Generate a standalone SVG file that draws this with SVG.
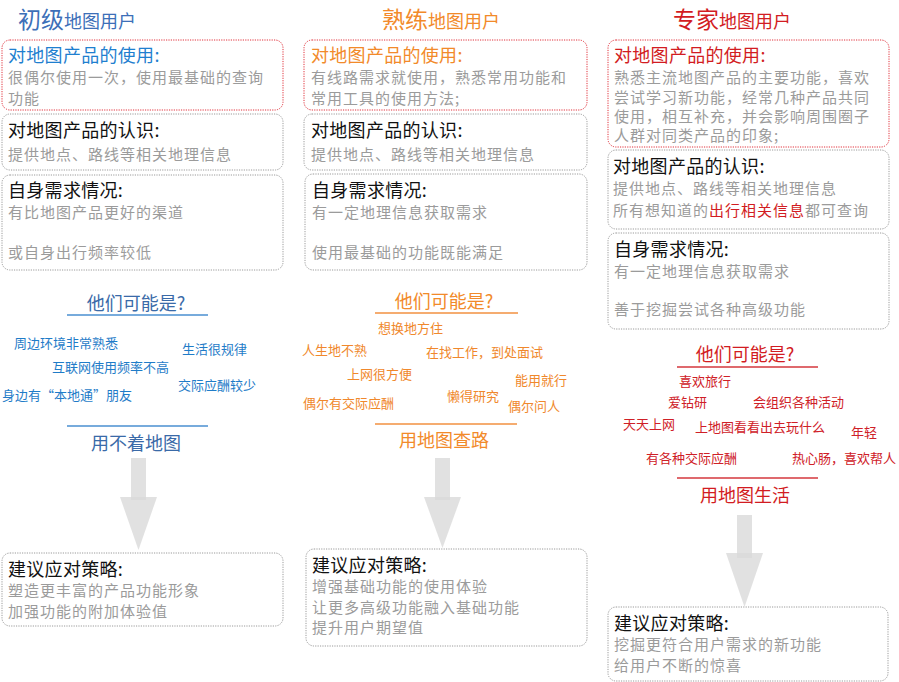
<svg xmlns="http://www.w3.org/2000/svg" width="899" height="682" viewBox="0 0 899 682">
<style>
text{font-family:"Noto Sans CJK SC","Noto Sans",sans-serif}
.box{fill:#fff;stroke:#9a9a9a;stroke-width:1;stroke-dasharray:1.2 1.2}
.rbox{fill:#fff;stroke:#e0303a;stroke-width:1;stroke-dasharray:1.2 1.2}
.h{font-size:18px;fill:#111;letter-spacing:0.3px}
.b{font-size:15px;fill:#9b9b9b;letter-spacing:1px}
.tb{fill:#3d6fb8}.to{fill:#f28a2a}.tr{fill:#d21c22}
.big{font-size:23px}.sm{font-size:18px}
.q{font-size:18px;text-anchor:middle}
.i{font-size:13px}
.ib{fill:#1f7cc8}.io{fill:#f0882c}.ir{fill:#cf2027}
.lb{stroke:#4a8fd0;stroke-width:1.5}.lo{stroke:#f29040;stroke-width:1.5}.lr{stroke:#d4373c;stroke-width:1.5}
.arr{fill:#dadada;opacity:0.8}
</style>

<g id="col1-title"><text x="18" y="28" class="tb"><tspan class="big">初级</tspan><tspan class="sm">地图用户</tspan></text></g>
<g id="col1-use">
<rect x="2" y="40" width="281" height="70" rx="8" class="rbox"/>
<text x="8" y="62" class="h" style="fill:#1f7fcf">对地图产品的使用:</text>
<text x="8" y="83" class="b">很偶尔使用一次，使用最基础的查询</text>
<text x="8" y="104" class="b">功能</text>
</g>
<g id="col1-know">
<rect x="2" y="114" width="281" height="56" rx="8" class="box"/>
<text x="8" y="137" class="h">对地图产品的认识:</text>
<text x="8" y="160" class="b">提供地点、路线等相关地理信息</text>
</g>
<g id="col1-need">
<rect x="2" y="175" width="281" height="95" rx="8" class="box"/>
<text x="8" y="197" class="h">自身需求情况:</text>
<text x="8" y="218" class="b">有比地图产品更好的渠道</text>
<text x="8" y="258" class="b">或自身出行频率较低</text>
</g>
<g id="col1-who">
<text x="136" y="310" class="q tb" style="fill:#3a6aa8">他们可能是?</text>
<line x1="67" y1="315" x2="208" y2="315" class="lb"/>
<text x="14" y="348" class="i ib">周边环境非常熟悉</text>
<text x="52" y="372" class="i ib">互联网使用频率不高</text>
<text x="2" y="400" class="i ib">身边有“本地通”朋友</text>
<text x="182" y="354" class="i ib">生活很规律</text>
<text x="178" y="390" class="i ib">交际应酬较少</text>
<line x1="67" y1="426" x2="208" y2="426" class="lb"/>
<text x="136" y="450" class="q" style="fill:#3a6aa8">用不着地图</text>
</g>
<g id="col1-strategy">
<rect x="2" y="553" width="281" height="73" rx="8" class="box"/>
<text x="8" y="576" class="h">建议应对策略:</text>
<text x="8" y="596" class="b">塑造更丰富的产品功能形象</text>
<text x="8" y="617" class="b">加强功能的附加体验值</text>
</g>

<g id="col2-title"><text x="382" y="28" class="to"><tspan class="big">熟练</tspan><tspan class="sm">地图用户</tspan></text></g>
<g id="col2-use">
<rect x="304" y="40" width="283" height="70" rx="8" class="rbox"/>
<text x="311" y="62" class="h" style="fill:#f28a2a">对地图产品的使用:</text>
<text x="311" y="83" class="b">有线路需求就使用，熟悉常用功能和</text>
<text x="311" y="104" class="b">常用工具的使用方法;</text>
</g>
<g id="col2-know">
<rect x="304" y="114" width="283" height="56" rx="8" class="box"/>
<text x="311" y="137" class="h">对地图产品的认识:</text>
<text x="311" y="160" class="b">提供地点、路线等相关地理信息</text>
</g>
<g id="col2-need">
<rect x="305" y="174" width="282" height="96" rx="8" class="box"/>
<text x="312" y="197" class="h">自身需求情况:</text>
<text x="312" y="218" class="b">有一定地理信息获取需求</text>
<text x="312" y="258" class="b">使用最基础的功能既能满足</text>
</g>
<g id="col2-who">
<text x="444" y="308" class="q to">他们可能是?</text>
<line x1="375" y1="313" x2="518" y2="313" class="lo"/>
<text x="378" y="333" class="i io">想换地方住</text>
<text x="302" y="355" class="i io">人生地不熟</text>
<text x="426" y="357" class="i io">在找工作，到处面试</text>
<text x="347" y="379" class="i io">上网很方便</text>
<text x="515" y="385" class="i io">能用就行</text>
<text x="447" y="401" class="i io">懒得研究</text>
<text x="303" y="408" class="i io">偶尔有交际应酬</text>
<text x="508" y="411" class="i io">偶尔问人</text>
<line x1="375" y1="424" x2="517" y2="424" class="lo"/>
<text x="444" y="447" class="q to">用地图查路</text>
</g>
<g id="col2-strategy">
<rect x="306" y="549" width="281" height="97" rx="8" class="box"/>
<text x="312" y="572" class="h">建议应对策略:</text>
<text x="312" y="592" class="b">增强基础功能的使用体验</text>
<text x="312" y="613" class="b">让更多高级功能融入基础功能</text>
<text x="312" y="633" class="b">提升用户期望值</text>
</g>

<g id="col3-title"><text x="673" y="28" class="tr"><tspan class="big">专家</tspan><tspan class="sm">地图用户</tspan></text></g>
<g id="col3-use">
<rect x="608" y="40" width="281" height="107" rx="8" class="rbox"/>
<text x="614" y="62" class="h" style="fill:#d21c22">对地图产品的使用:</text>
<text x="614" y="83" class="b">熟悉主流地图产品的主要功能，喜欢</text>
<text x="614" y="103" class="b">尝试学习新功能，经常几种产品共同</text>
<text x="614" y="122" class="b">使用，相互补充，并会影响周围圈子</text>
<text x="614" y="141" class="b">人群对同类产品的印象;</text>
</g>
<g id="col3-know">
<rect x="608" y="150" width="281" height="79" rx="8" class="box"/>
<text x="613" y="173" class="h">对地图产品的认识:</text>
<text x="613" y="194" class="b">提供地点、路线等相关地理信息</text>
<text x="613" y="216" class="b">所有想知道的<tspan style="fill:#d21c22">出行相关信息</tspan>都可查询</text>
</g>
<g id="col3-need">
<rect x="608" y="233" width="281" height="96" rx="8" class="box"/>
<text x="614" y="256" class="h">自身需求情况:</text>
<text x="614" y="277" class="b">有一定地理信息获取需求</text>
<text x="614" y="315" class="b">善于挖掘尝试各种高级功能</text>
</g>
<g id="col3-who">
<text x="745" y="361" class="q tr">他们可能是?</text>
<line x1="677" y1="367" x2="818" y2="367" class="lr"/>
<text x="679" y="386" class="i ir">喜欢旅行</text>
<text x="668" y="407" class="i ir">爱钻研</text>
<text x="753" y="407" class="i ir">会组织各种活动</text>
<text x="623" y="429" class="i ir">天天上网</text>
<text x="695" y="432" class="i ir">上地图看看出去玩什么</text>
<text x="851" y="437" class="i ir">年轻</text>
<text x="646" y="463" class="i ir">有各种交际应酬</text>
<text x="792" y="463" class="i ir">热心肠，喜欢帮人</text>
<line x1="677" y1="478" x2="818" y2="478" class="lr"/>
<text x="745" y="502" class="q tr">用地图生活</text>
</g>
<g id="col3-strategy">
<rect x="608" y="607" width="280" height="74" rx="8" class="box"/>
<text x="614" y="630" class="h">建议应对策略:</text>
<text x="614" y="650" class="b">挖掘更符合用户需求的新功能</text>
<text x="614" y="671" class="b">给用户不断的惊喜</text>
</g>

<g id="connectors">
<rect x="131" y="458" width="15" height="42" class="arr"/>
<polygon points="120,497 157,497 138.5,550" class="arr"/>
<rect x="435" y="458" width="15" height="42" class="arr"/>
<polygon points="424,497 461,497 442.5,548" class="arr"/>
<rect x="737" y="515" width="15" height="43" class="arr"/>
<polygon points="726,553 763,553 744.5,607" class="arr"/>
</g>
</svg>
